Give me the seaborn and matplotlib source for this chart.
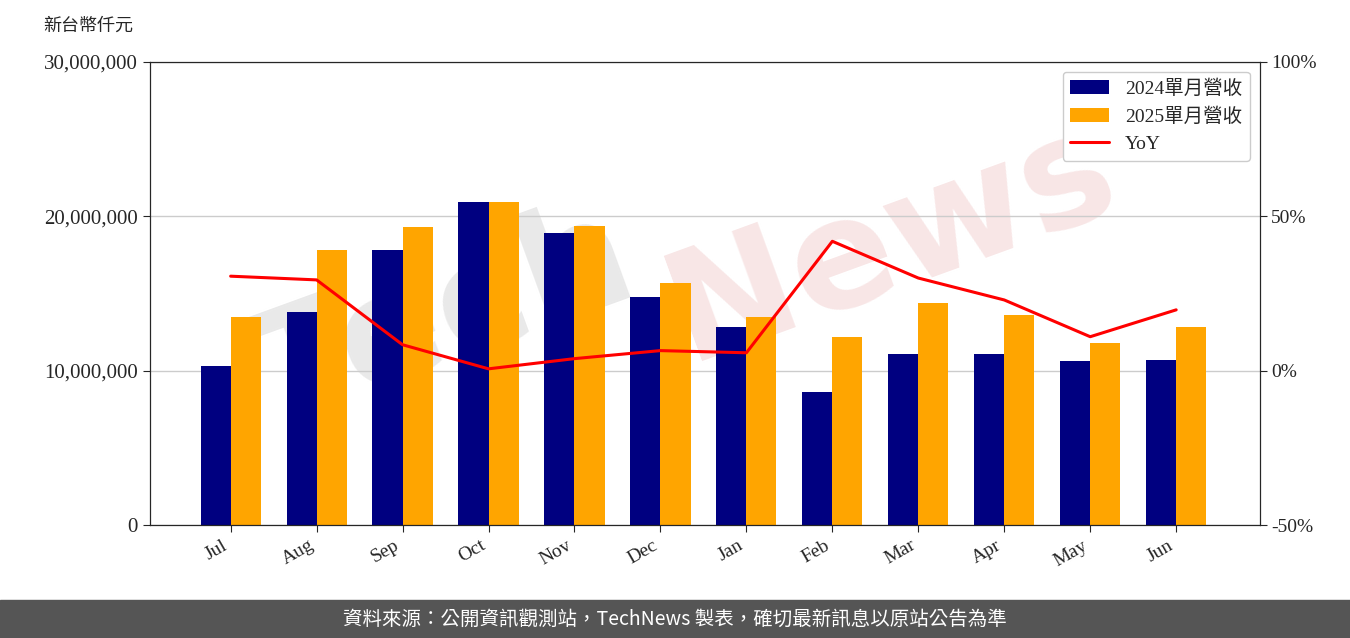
import matplotlib
matplotlib.use("Agg")
import matplotlib.pyplot as plt
import seaborn as sns
import pandas as pd
import numpy as np

months = ["Jul","Aug","Sep","Oct","Nov","Dec","Jan","Feb","Mar","Apr","May","Jun"]
rev2024 = [10.3,13.8,17.8,20.9,18.9,14.8,12.8,8.6,11.1,11.1,10.6,10.7]
rev2025 = [13.5,17.8,19.3,20.9,19.4,15.7,13.5,12.2,14.4,13.6,11.8,12.8]
yoy = [30.6,29.4,8.4,0.6,3.9,6.5,5.8,41.9,30.0,22.9,11.0,19.7]
s1, s2 = "2024單月營收", "2025單月營收"

sns.set_style("white")
plt.rcParams['font.family'] = ['Liberation Serif', 'Noto Sans CJK TC', 'DejaVu Sans']

df = pd.DataFrame({"month": months*2,
                   "value": [v*1e6 for v in rev2024] + [v*1e6 for v in rev2025],
                   "series": [s1]*12 + [s2]*12})

fig = plt.figure(figsize=(13.5, 6.38), dpi=100)
fig.text(0.33, 0.50, "Tech", fontsize=110, color="#d8d8d8", alpha=0.55,
         rotation=20, ha="center", va="center", fontweight="bold", family="DejaVu Sans", zorder=-5)
fig.text(0.66, 0.62, "News", fontsize=110, color="#f0c8c8", alpha=0.45,
         rotation=20, ha="center", va="center", fontweight="bold", family="DejaVu Sans", zorder=-5)

ax = fig.add_axes([0.111, 0.177, 0.822, 0.726])
ax.set_zorder(1)
ax.patch.set_alpha(0)
sns.barplot(data=df, x="month", y="value", hue="series", palette=["#000080", "#FFA500"],
            width=0.7, ax=ax, saturation=1, legend=True, linewidth=0, edgecolor="none")
ax.set_ylim(0, 30e6)
ax.set_xlim(-0.94, 11.97)
ax.set_yticks([0, 10e6, 20e6, 30e6])
ax.set_yticklabels(["0", "10,000,000", "20,000,000", "30,000,000"], fontsize=15)
ax.yaxis.grid(True, color="#cccccc", lw=1)
ax.set_axisbelow(True)
ax.set_xlabel(""); ax.set_ylabel("")
ax.set_xticks(range(12))
ax.set_xticklabels(months, rotation=30, ha="right", fontsize=14)
ax.tick_params(axis='both', length=5, direction='out', left=True, bottom=True)
for s in ax.spines.values():
    s.set_color("black")

ax2 = ax.twinx()
ax2.set_zorder(2)
ax2.patch.set_alpha(0)
ax2.plot(range(12), yoy, color="red", lw=2.2, label="YoY")
ax2.set_ylim(-50, 100)
ax2.set_yticks([-50, 0, 50, 100])
ax2.set_yticklabels(["-50%", "0%", "50%", "100%"], fontsize=14)
ax2.tick_params(axis='y', length=5, right=True)

h1, l1 = ax.get_legend_handles_labels()
h2, l2 = ax2.get_legend_handles_labels()
ax.get_legend().remove()
ax2.legend(h1 + h2, l1 + l2, loc="upper right", fontsize=14, frameon=True, framealpha=1)

fig.text(0.032, 0.96, "新台幣仟元", fontsize=13, family=["Noto Sans CJK TC"], va="center")

fig.patches.append(plt.Rectangle((0, 0), 1, 0.06, transform=fig.transFigure, color="#555555", zorder=0))
fig.text(0.5, 0.03, "資料來源：公開資訊觀測站，TechNews 製表，確切最新訊息以原站公告為準",
         color="white", fontsize=14, ha="center", va="center", family=["Noto Sans CJK TC"])
fig.savefig("out.png", dpi=100)
